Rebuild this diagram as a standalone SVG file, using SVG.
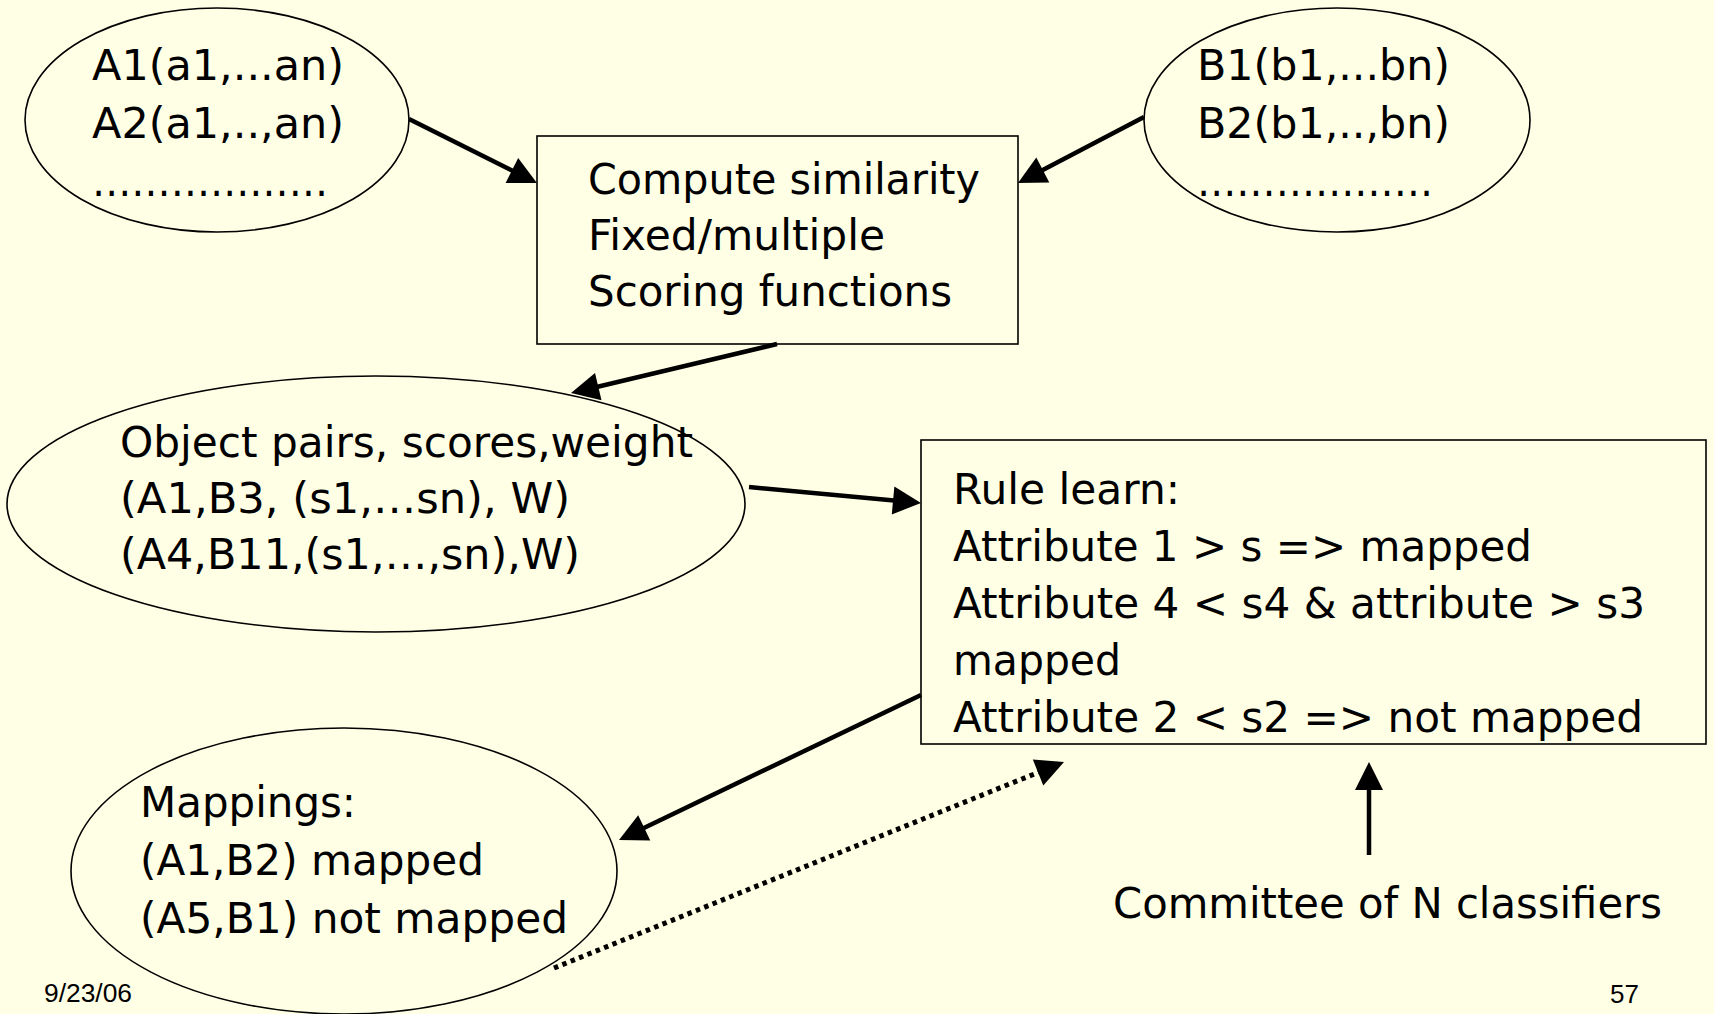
<svg xmlns="http://www.w3.org/2000/svg" width="1714" height="1014" viewBox="0 0 1714 1014">
<style>
.t{font-family:"DejaVu Sans","Liberation Sans",sans-serif;font-size:43px;fill:#000}
.s{font-family:"Liberation Sans",Arial,sans-serif;font-size:26px;fill:#000}
.shape{fill:none;stroke:#000;stroke-width:1.6}
.arr{stroke:#000;stroke-width:4.5;fill:none;marker-end:url(#ah)}
.dot{stroke:#000;stroke-width:5;fill:none;stroke-dasharray:4.5 4.5;marker-end:url(#ah)}
</style>
<defs>
<marker id="ah" markerUnits="userSpaceOnUse" viewBox="-22 -16 32 32" refX="0" refY="0" markerWidth="32" markerHeight="32" orient="auto">
<path d="M8,0 L-20,-14 L-20,14 Z" fill="#000"/>
</marker>
</defs>
<rect x="0" y="0" width="1714" height="1014" fill="#FFFFE6"/>
<g id="nodeA">
<ellipse class="shape" cx="217" cy="120" rx="192" ry="112"/>
<text class="t" x="92" y="80" textLength="252" lengthAdjust="spacingAndGlyphs">A1(a1,...an)</text>
<text class="t" x="92" y="138" textLength="252" lengthAdjust="spacingAndGlyphs">A2(a1,..,an)</text>
<text class="t" x="92" y="196" textLength="236" lengthAdjust="spacingAndGlyphs">………………</text>
</g>
<g id="nodeB">
<ellipse class="shape" cx="1337" cy="120" rx="193" ry="112"/>
<text class="t" x="1197" y="80" textLength="253" lengthAdjust="spacingAndGlyphs">B1(b1,...bn)</text>
<text class="t" x="1197" y="138" textLength="253" lengthAdjust="spacingAndGlyphs">B2(b1,..,bn)</text>
<text class="t" x="1197" y="196" textLength="236" lengthAdjust="spacingAndGlyphs">………………</text>
</g>
<g id="compute">
<rect class="shape" x="537" y="136" width="481" height="208"/>
<text class="t" x="588" y="194" textLength="392" lengthAdjust="spacingAndGlyphs">Compute similarity</text>
<text class="t" x="588" y="250" textLength="297" lengthAdjust="spacingAndGlyphs">Fixed/multiple</text>
<text class="t" x="588" y="306" textLength="364" lengthAdjust="spacingAndGlyphs">Scoring functions</text>
</g>
<g id="pairs">
<ellipse class="shape" cx="376" cy="504" rx="369" ry="128"/>
<text class="t" x="120" y="457" textLength="573" lengthAdjust="spacingAndGlyphs">Object pairs, scores,weight</text>
<text class="t" x="120" y="513" textLength="450" lengthAdjust="spacingAndGlyphs">(A1,B3, (s1,…sn), W)</text>
<text class="t" x="120" y="569" textLength="460" lengthAdjust="spacingAndGlyphs">(A4,B11,(s1,…,sn),W)</text>
</g>
<g id="rules">
<rect class="shape" x="921" y="440" width="785" height="304"/>
<text class="t" x="953" y="504" textLength="227" lengthAdjust="spacingAndGlyphs">Rule learn:</text>
<text class="t" x="953" y="561" textLength="579" lengthAdjust="spacingAndGlyphs">Attribute 1 &gt; s =&gt; mapped</text>
<text class="t" x="953" y="618" textLength="692" lengthAdjust="spacingAndGlyphs">Attribute 4 &lt; s4 &amp; attribute &gt; s3</text>
<text class="t" x="953" y="675" textLength="168" lengthAdjust="spacingAndGlyphs">mapped</text>
<text class="t" x="953" y="732" textLength="690" lengthAdjust="spacingAndGlyphs">Attribute 2 &lt; s2 =&gt; not mapped</text>
</g>
<g id="mappings">
<ellipse class="shape" cx="344" cy="871" rx="273" ry="143"/>
<text class="t" x="140" y="817" textLength="216" lengthAdjust="spacingAndGlyphs">Mappings:</text>
<text class="t" x="140" y="875" textLength="344" lengthAdjust="spacingAndGlyphs">(A1,B2) mapped</text>
<text class="t" x="140" y="933" textLength="428" lengthAdjust="spacingAndGlyphs">(A5,B1) not mapped</text>
</g>
<g id="committee">
<text class="t" x="1113" y="918" textLength="549" lengthAdjust="spacingAndGlyphs">Committee of N classifiers</text>
</g>
<g id="connectors">
<line class="arr" x1="409" y1="119" x2="529.8" y2="179.4"/>
<line class="arr" x1="1144" y1="117" x2="1025.1" y2="179.3"/>
<line class="arr" x1="777" y1="344" x2="578.8" y2="391.2"/>
<line class="arr" x1="749" y1="487" x2="913" y2="502.3"/>
<line class="arr" x1="921" y1="695" x2="626.2" y2="836.5"/>
<line class="dot" x1="554" y1="968" x2="1056.6" y2="765"/>
<line class="arr" x1="1369" y1="855" x2="1369" y2="770"/>
</g>
<text class="s" x="44" y="1002" textLength="88" lengthAdjust="spacingAndGlyphs">9/23/06</text>
<text class="s" x="1610" y="1003">57</text>
</svg>
